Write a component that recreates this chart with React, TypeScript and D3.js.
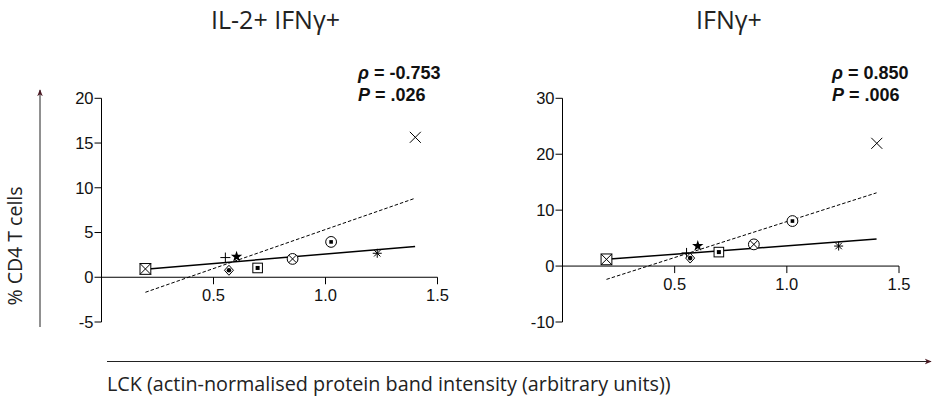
import React from 'react';
import * as d3 from 'd3';

// One marker style per donor, shared across both panels
const markerKinds = ['boxX', 'plus', 'star', 'diamondDot', 'boxDot', 'circleX', 'circleDot', 'asterisk', 'cross'];
// LCK band intensity per donor
const lckValues = [0.196, 0.553, 0.603, 0.569, 0.697, 0.853, 1.025, 1.231, 1.401];
// % CD4 T cells, IL-2+ IFNγ+
const il2IfngValues = [0.93, 2.2, 2.3, 0.78, 1.04, 2.05, 3.95, 2.68, 15.64];
// % CD4 T cells, IFNγ+
const ifngValues = [1.2, 2.35, 3.6, 1.43, 2.5, 3.88, 8.05, 3.58, 21.95];

// Fit line end points
const fitX = [0.196, 1.4];
const il2IfngSolid = [0.9, 3.44];
const il2IfngDashed = [-1.68, 8.83];
const ifngSolid = [1.2, 4.83];
const ifngDashed = [-2.38, 13.1];

const xTicks = [0.5, 1.0, 1.5];
const il2IfngYTicks = [-5, 0, 5, 10, 15, 20];
const ifngYTicks = [-10, 0, 10, 20, 30];

const panels = [
  {
    title: 'IL-2+ IFNγ+', rho: '-0.753', p: '.026',
    values: il2IfngValues, solid: il2IfngSolid, dashed: il2IfngDashed,
    yTicks: il2IfngYTicks, xRange: [101.5, 437.5], titleX: 275.5, statX: 358,
  },
  {
    title: 'IFNγ+', rho: '0.850', p: '.006',
    values: ifngValues, solid: ifngSolid, dashed: ifngDashed,
    yTicks: ifngYTicks, xRange: [562.5, 899], titleX: 729, statX: 832,
  },
];

const TOP = 98.3;
const BOTTOM = 322;
const sansFont = '"Open Sans", "Noto Sans", sans-serif';
const tickFont = '"Liberation Sans", Arial, sans-serif';

function Marker({ kind, x, y }: { kind: string; x: number; y: number }) {
  const s = 'black';
  const sw = 1;
  const r = 5.4;
  switch (kind) {
    case 'boxX':
      return (
        <g stroke={s} strokeWidth={sw} fill="white">
          <rect x={x - r} y={y - r} width={2 * r} height={2 * r} />
          <line x1={x - r} y1={y - r} x2={x + r} y2={y + r} />
          <line x1={x - r} y1={y + r} x2={x + r} y2={y - r} />
        </g>
      );
    case 'plus':
      return (
        <g stroke={s} strokeWidth={sw}>
          <line x1={x - 5} y1={y} x2={x + 5} y2={y} />
          <line x1={x} y1={y - 5} x2={x} y2={y + 5} />
        </g>
      );
    case 'star':
      return <path d={d3.symbol(d3.symbolStar, 40)() as string} transform={`translate(${x},${y})`} fill={s} />;
    case 'diamondDot':
      return (
        <g>
          <path d={`M${x},${y - 5}L${x + 4.5},${y}L${x},${y + 5}L${x - 4.5},${y}Z`} fill="white" stroke={s} strokeWidth={sw} />
          <circle cx={x} cy={y} r={2.3} fill={s} />
        </g>
      );
    case 'boxDot':
      return (
        <g>
          <rect x={x - 4.8} y={y - 4.8} width={9.6} height={9.6} fill="white" stroke={s} strokeWidth={sw} />
          <rect x={x - 2} y={y - 2} width={4} height={4} fill={s} />
        </g>
      );
    case 'circleX': {
      const d = r * 0.7;
      return (
        <g stroke={s} strokeWidth={sw} fill="white">
          <circle cx={x} cy={y} r={r} />
          <line x1={x - d} y1={y - d} x2={x + d} y2={y + d} />
          <line x1={x - d} y1={y + d} x2={x + d} y2={y - d} />
        </g>
      );
    }
    case 'circleDot':
      return (
        <g>
          <circle cx={x} cy={y} r={r} fill="white" stroke={s} strokeWidth={sw} />
          <rect x={x - 1.8} y={y - 1.8} width={3.6} height={3.6} fill={s} />
        </g>
      );
    case 'asterisk': {
      const a = 4.5;
      const d = a * 0.71;
      return (
        <g stroke={s} strokeWidth={sw}>
          <line x1={x - a} y1={y} x2={x + a} y2={y} />
          <line x1={x} y1={y - a} x2={x} y2={y + a} />
          <line x1={x - d} y1={y - d} x2={x + d} y2={y + d} />
          <line x1={x - d} y1={y + d} x2={x + d} y2={y - d} />
        </g>
      );
    }
    case 'cross':
    default:
      return (
        <g stroke={s} strokeWidth={sw}>
          <line x1={x - 5.5} y1={y - 5.5} x2={x + 5.5} y2={y + 5.5} />
          <line x1={x - 5.5} y1={y + 5.5} x2={x + 5.5} y2={y - 5.5} />
        </g>
      );
  }
}

function Panel({ cfg }: { cfg: (typeof panels)[number] }) {
  const yMin = cfg.yTicks[0];
  const yMax = cfg.yTicks[cfg.yTicks.length - 1];
  const x = d3.scaleLinear().domain([0, 1.5]).range(cfg.xRange);
  const y = d3.scaleLinear().domain([yMin, yMax]).range([BOTTOM, TOP]);
  const line = d3.line<number>().x((_, i) => x(fitX[i])).y((v) => y(v));
  const x0 = x(0);
  const y0 = y(0);
  return (
    <g>
      <text x={cfg.titleX} y={29} textAnchor="middle" fontFamily={sansFont} fontSize={25} fill="#222">
        {cfg.title}
      </text>
      {/* y axis */}
      <line x1={x0} y1={y(yMin)} x2={x0} y2={y(yMax)} stroke="black" strokeWidth={1} />
      {cfg.yTicks.map((t) => (
        <g key={t}>
          <line x1={x0 - 7} y1={y(t)} x2={x0} y2={y(t)} stroke="black" strokeWidth={1} />
          <text x={x0 - 8} y={y(t)} dy="0.36em" textAnchor="end" fontFamily={tickFont} fontSize={16.5} fill="#111">
            {t}
          </text>
        </g>
      ))}
      {/* x axis on the zero line */}
      <line x1={x0} y1={y0} x2={x(1.5)} y2={y0} stroke="black" strokeWidth={1} />
      {xTicks.map((t) => (
        <g key={t}>
          <line x1={x(t)} y1={y0} x2={x(t)} y2={y0 + 7} stroke="black" strokeWidth={1} />
          <text x={x(t)} y={y0 + 24} textAnchor="middle" fontFamily={tickFont} fontSize={16.5} fill="#111">
            {d3.format('.1f')(t)}
          </text>
        </g>
      ))}
      <path d={line(cfg.dashed) as string} fill="none" stroke="black" strokeWidth={1} strokeDasharray="3.5,2" />
      <path d={line(cfg.solid) as string} fill="none" stroke="black" strokeWidth={1.5} />
      {cfg.values.map((v, i) => (
        <Marker key={i} kind={markerKinds[i]} x={x(lckValues[i])} y={y(v)} />
      ))}
      <text x={cfg.statX} y={79} fontFamily={tickFont} fontSize={18} fontWeight="bold" fill="#111">
        <tspan fontStyle="italic">ρ</tspan> = {cfg.rho}
      </text>
      <text x={cfg.statX} y={100.5} fontFamily={tickFont} fontSize={18} fontWeight="bold" fill="#111">
        <tspan fontStyle="italic">P</tspan> = {cfg.p}
      </text>
    </g>
  );
}

export default function App() {
  const W = 933;
  const H = 401;
  return (
    <svg width={W} height={H} style={{ position: 'absolute', left: 0, top: 0, background: 'white' }}>
      <defs>
        <marker id="arrowHead" viewBox="0 0 10 10" refX="9" refY="5" markerWidth="7" markerHeight="7" orient="auto">
          <path d="M0,1 L10,5 L0,9 L3,5 Z" fill="#4a1822" />
        </marker>
      </defs>
      {panels.map((p) => (
        <Panel key={p.title} cfg={p} />
      ))}
      {/* shared axis arrows */}
      <line x1={40} y1={327} x2={40} y2={90} stroke="#222" strokeWidth={1} markerEnd="url(#arrowHead)" />
      <line x1={107} y1={361.5} x2={931} y2={361.5} stroke="#222" strokeWidth={1} markerEnd="url(#arrowHead)" />
      <text
        transform="translate(22,246) rotate(-90)"
        textAnchor="middle"
        fontFamily={sansFont}
        fontSize={19.5}
        fill="#222"
      >
        % CD4 T cells
      </text>
      <text x={107} y={391} fontFamily={sansFont} fontSize={19.8} fill="#222">
        LCK (actin-normalised protein band intensity (arbitrary units))
      </text>
    </svg>
  );
}
